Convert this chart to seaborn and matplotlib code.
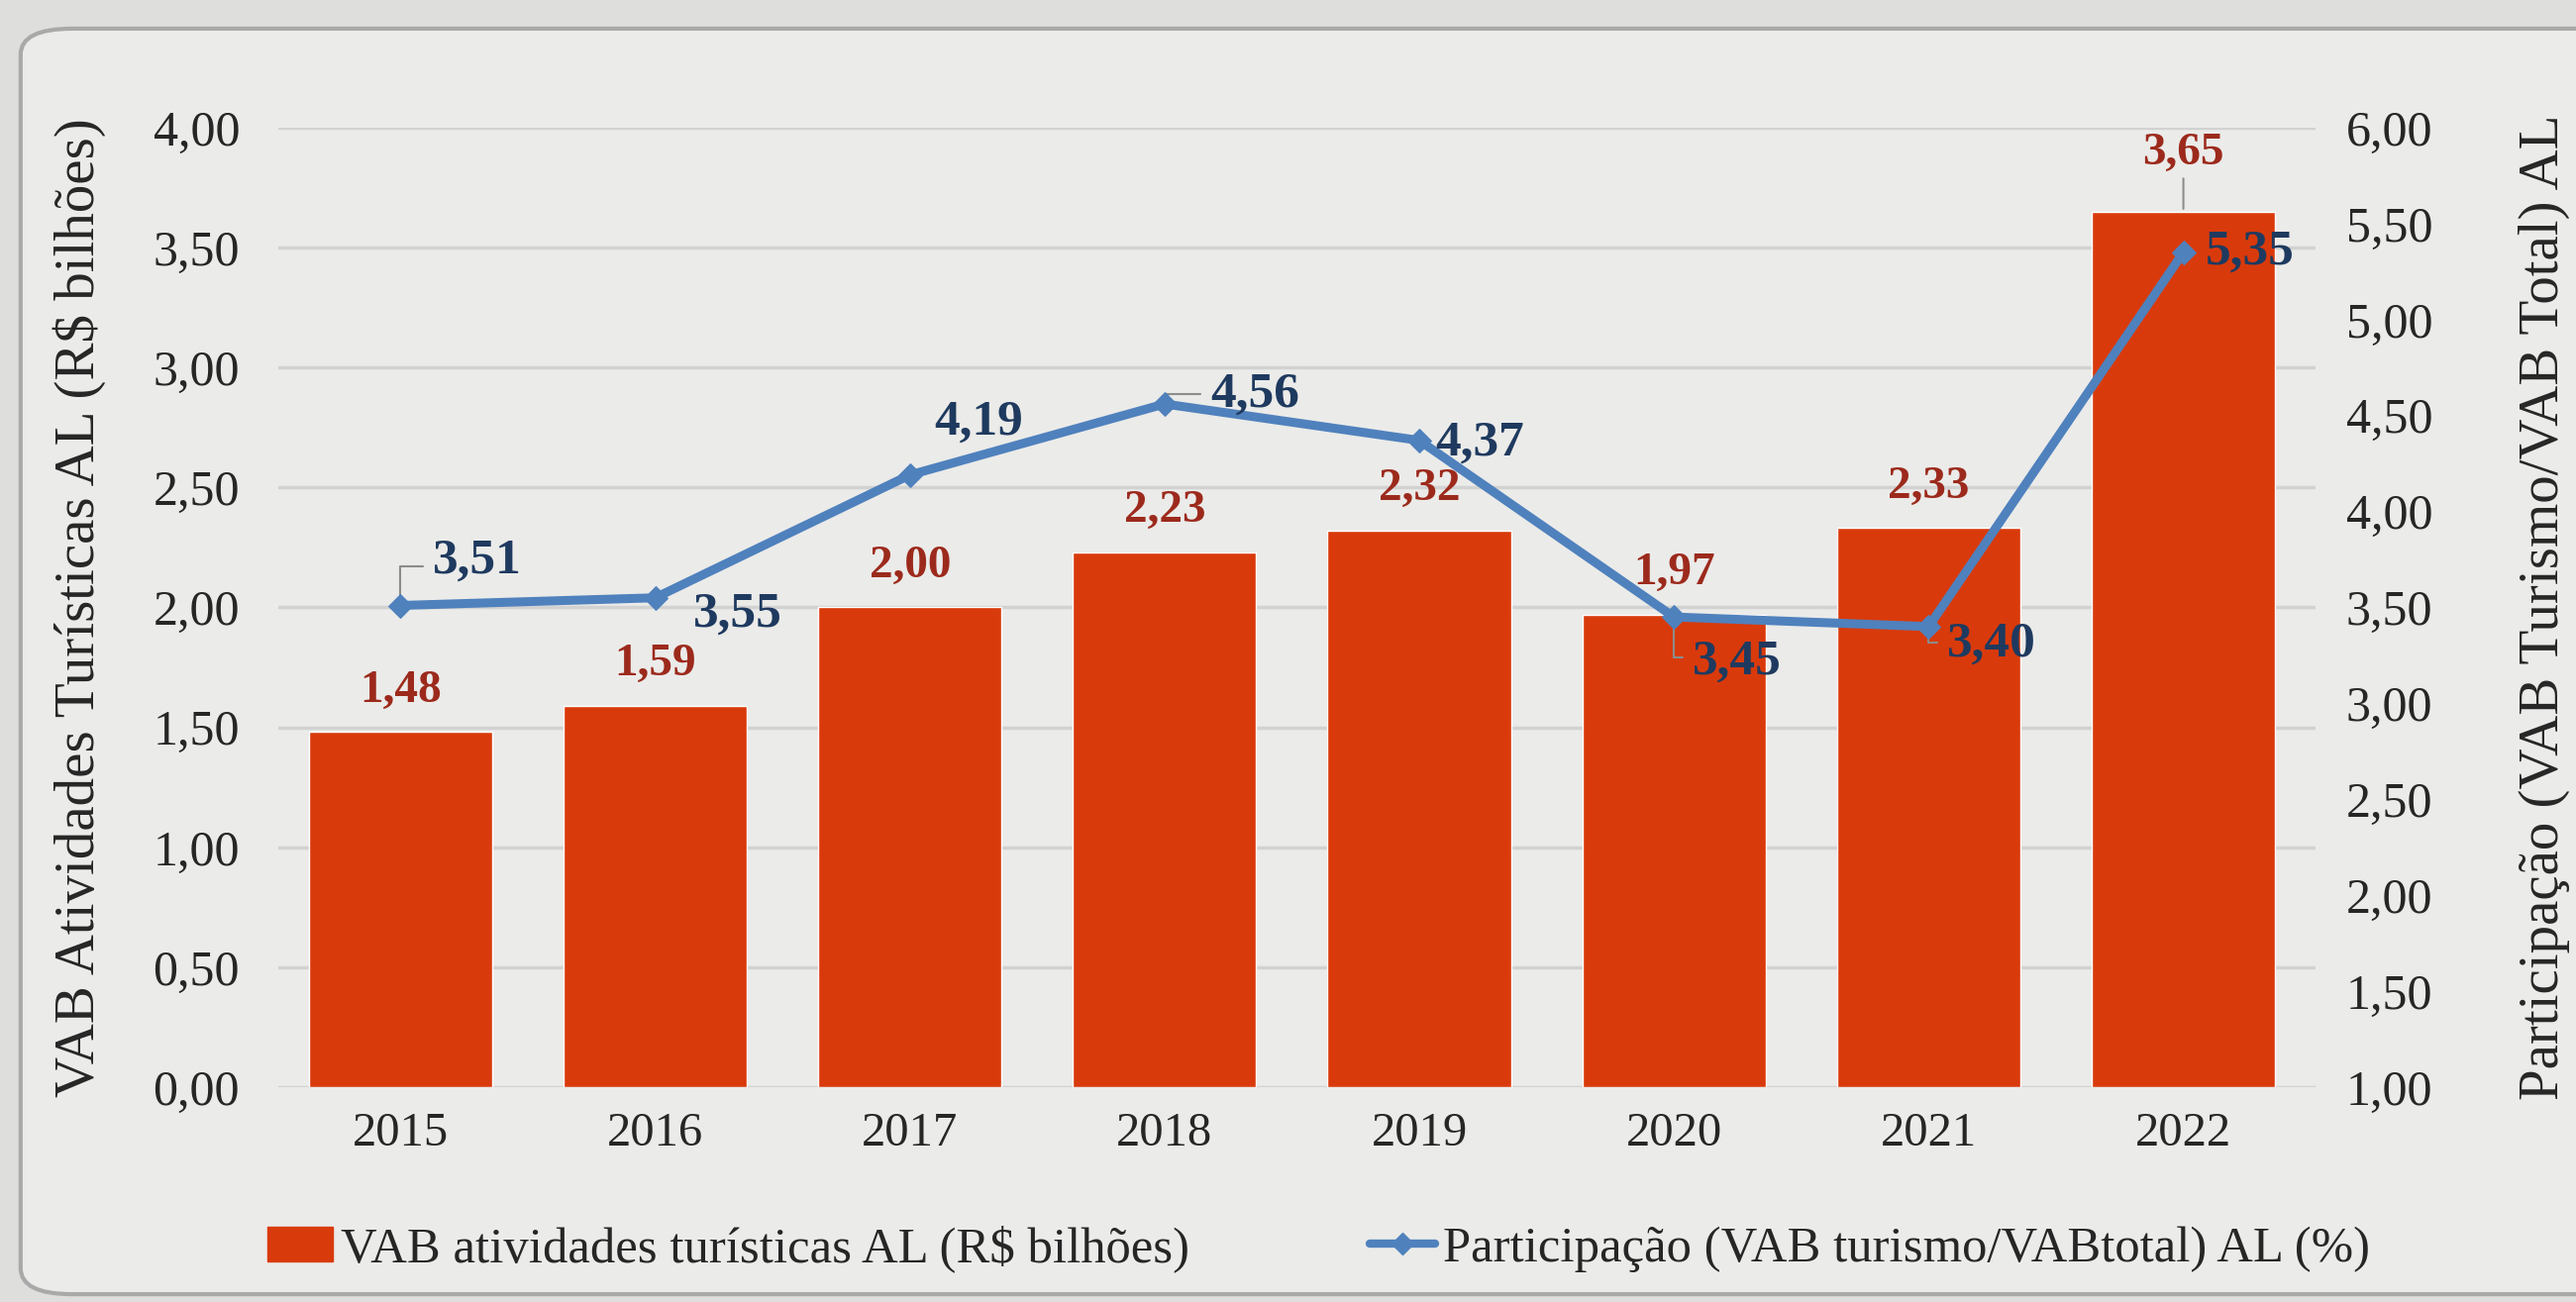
import numpy as np
import pandas as pd
import matplotlib
matplotlib.use("Agg")
import matplotlib.pyplot as plt
from matplotlib.patches import FancyBboxPatch
from matplotlib.lines import Line2D
from matplotlib.patches import Patch
import seaborn as sns

# ---------------- data ----------------
years = ["2015", "2016", "2017", "2018", "2019", "2020", "2021", "2022"]
vab_bilhoes = [1.48, 1.59, 2.00, 2.23, 2.32, 1.97, 2.33, 3.65]
participacao = [3.51, 3.55, 4.19, 4.56, 4.37, 3.45, 3.40, 5.35]
left_ticks = [0.0, 0.5, 1.0, 1.5, 2.0, 2.5, 3.0, 3.5, 4.0]
right_ticks = [1.0, 1.5, 2.0, 2.5, 3.0, 3.5, 4.0, 4.5, 5.0, 5.5, 6.0]
# label offsets (points) for the line labels
line_lbl_dx = [56, 60, 50, 66, 44, 46, 46, 48]
line_lbl_dy = [32, -12, 38, 7, -2, -33, -13, 0]

bar_label = "VAB atividades turísticas AL (R$ bilhões)"
line_label = "Participação (VAB turismo/VABtotal) AL (%)"
left_title = "VAB Atividades Turísticas AL (R$ bilhões)"
right_title = "Participação (VAB Turismo/VAB Total) AL"

BAR_C = "#D93A0B"
LINE_C = "#4F81BD"
BAR_TXT = "#9C2A1C"
LINE_TXT = "#1F3A5F"
BG_OUT = "#DEDEDC"
BG_IN = "#EBEBE9"

df = pd.DataFrame({"ano": years, "vab": vab_bilhoes, "part": participacao})

sns.set_theme(style="white")
plt.rcParams["font.family"] = ["Liberation Serif", "DejaVu Serif"]

fig = plt.figure(figsize=(26.01, 13.15), dpi=100, facecolor=BG_OUT)
frame = FancyBboxPatch((0.008, 0.006), 1.2, 0.972, boxstyle="round,pad=0,rounding_size=0.02",
                       transform=fig.transFigure, facecolor=BG_IN, edgecolor="#A9A9A9",
                       linewidth=3, zorder=-10)
fig.patches.append(frame)

ax = fig.add_axes([0.108, 0.165, 0.791, 0.737])
ax.set_facecolor("none")

sns.barplot(data=df, x="ano", y="vab", color=BAR_C, saturation=1, width=0.72, ax=ax, zorder=3)
ax.set_ylim(0, 4)
ax.set_xlim(-0.48, 7.52)
ax.set_yticks(left_ticks)
ax.set_yticklabels([f"{v:.2f}".replace(".", ",") for v in left_ticks], fontsize=36)
ax.tick_params(axis="x", labelsize=35, length=0, pad=18)
ax.tick_params(axis="y", length=0, pad=28)
ax.grid(axis="y", color="#D2D2D2", linewidth=2.5, zorder=0)
ax.set_axisbelow(True)
ax.set_xlabel("")
ax.set_ylabel(left_title, fontsize=41, labelpad=34)
for s in ax.spines.values():
    s.set_visible(False)

# bar labels
for i, v in enumerate(vab_bilhoes):
    off = 42 if i == 7 else 30
    ax.annotate(f"{v:.2f}".replace(".", ","), xy=(i, v), xytext=(0, off),
                textcoords="offset points", ha="center", va="center",
                fontsize=34, fontweight="bold", color=BAR_TXT, zorder=6)
ax.annotate("", xy=(7, vab_bilhoes[7]), xytext=(0, 26), textcoords="offset points",
            arrowprops=dict(arrowstyle="-", color="#8C8C8C", lw=1.5), zorder=6)

ax2 = ax.twinx()
ax2.set_facecolor("none")
sns.lineplot(x=np.arange(len(years)), y=participacao, ax=ax2, color=LINE_C, linewidth=6.5,
             marker="D", markersize=12, markeredgecolor=LINE_C, zorder=5)
ax2.set_ylim(1, 6)
ax2.set_yticks(right_ticks)
ax2.set_yticklabels([f"{v:.2f}".replace(".", ",") for v in right_ticks], fontsize=36)
ax2.tick_params(axis="y", length=0, pad=22)
ax2.set_ylabel(right_title, fontsize=41, labelpad=62, rotation=90)
ax2.grid(False)
for s in ax2.spines.values():
    s.set_visible(False)

# line labels with leader lines
for i, v in enumerate(participacao):
    dx, dy = line_lbl_dx[i], line_lbl_dy[i]
    ax2.annotate(f"{v:.2f}".replace(".", ","), xy=(i, v), xytext=(dx, dy),
                 textcoords="offset points", ha="center", va="center",
                 fontsize=37, fontweight="bold", color=LINE_TXT, zorder=7)
    if i in (0, 3, 5, 6):
        ax2.annotate("", xy=(i, v), xytext=(dx - 38, dy * 0.9 if i != 3 else dy),
                     textcoords="offset points",
                     arrowprops=dict(arrowstyle="-", color="#8C8C8C", lw=1.5,
                                     connectionstyle="angle,angleA=0,angleB=90,rad=0"),
                     zorder=4)

handles = [Patch(facecolor=BAR_C, edgecolor=BAR_C),
           Line2D([0], [0], color=LINE_C, lw=6, marker="D", markersize=11)]
fig.legend(handles, [bar_label, line_label], loc="center", bbox_to_anchor=(0.512, 0.041),
           ncol=2, frameon=False, fontsize=36.5, columnspacing=3.6, handlelength=1.3,
           handletextpad=0.15)

fig.savefig("out.png", dpi=100, facecolor=fig.get_facecolor())
